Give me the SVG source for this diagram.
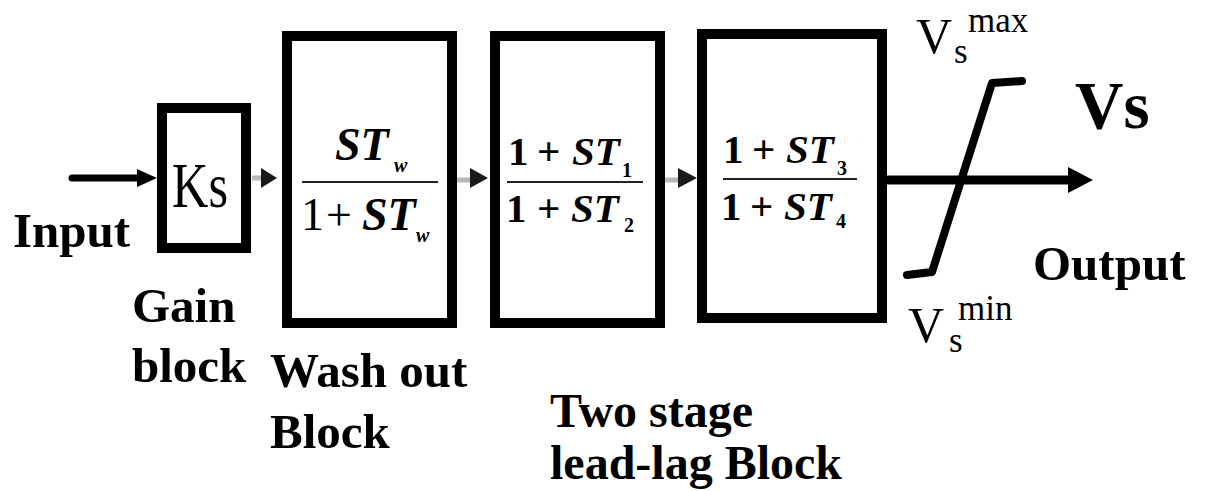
<svg xmlns="http://www.w3.org/2000/svg" width="1207" height="491" viewBox="0 0 1207 491">
<defs>
<style>
.box{fill:#fff;stroke:#000;stroke-width:10}
.frac{stroke:#222;stroke-width:2}
.gray{stroke:#b8b8b8;stroke-width:5}
.line{stroke:#000;fill:none;stroke-linecap:round;stroke-linejoin:round}
</style>
</defs>
<rect width="1207" height="491" fill="#fff"/>
<g id="connectors">
  <line class="line" x1="72" y1="178" x2="140" y2="178" stroke-width="7"/>
  <polygon points="137,169 157,178 137,187" fill="#000"/>
  <line class="gray" x1="252" y1="178" x2="263" y2="178"/>
  <polygon points="261,168 277,178 261,188" fill="#1a1a1a"/>
  <line class="gray" x1="440" y1="180" x2="472" y2="180"/>
  <polygon points="470,168 488,178 470,188" fill="#1a1a1a"/>
  <line class="gray" x1="665" y1="180" x2="680" y2="180"/>
  <polygon points="678,168 697,178 678,188" fill="#1a1a1a"/>
  <line class="line" x1="887" y1="180" x2="1072" y2="180" stroke-width="9" stroke-linecap="butt"/>
  <polygon points="1068,167 1093,180 1068,193" fill="#000"/>
</g>
<g id="input">
  <text x="13" y="247" font-family="Liberation Serif" font-weight="bold" font-size="49">Input</text>
</g>
<g id="gain">
  <rect class="box" x="162" y="108" width="84" height="140"/>
  <text x="172" y="207" font-family="Liberation Serif" font-size="64" textLength="56" lengthAdjust="spacingAndGlyphs">Ks</text>
  <text x="132" y="322" font-family="Liberation Serif" font-weight="bold" font-size="49">Gain</text>
  <text x="132" y="382" font-family="Liberation Serif" font-weight="bold" font-size="49">block</text>
</g>
<g id="washout">
  <rect class="box" x="287" y="36" width="165" height="287"/>
  <line class="frac" x1="302" y1="182" x2="438" y2="182"/>
  <text x="335" y="160" font-family="Liberation Serif" font-weight="bold" font-style="italic" font-size="46">ST</text>
  <text x="394" y="172" font-family="Liberation Serif" font-weight="bold" font-style="italic" font-size="20">w</text>
  <text x="301" y="230" font-family="Liberation Serif" font-size="46">1</text>
  <text x="326" y="230" font-family="Liberation Serif" font-size="46">+</text>
  <text x="362" y="230" font-family="Liberation Serif" font-weight="bold" font-style="italic" font-size="46">ST</text>
  <text x="416" y="242" font-family="Liberation Serif" font-weight="bold" font-style="italic" font-size="20">w</text>
  <text x="270" y="387" font-family="Liberation Serif" font-weight="bold" font-size="49">Wash out</text>
  <text x="270" y="448" font-family="Liberation Serif" font-weight="bold" font-size="49">Block</text>
</g>
<g id="leadlag1">
  <rect class="box" x="495" y="36" width="165" height="287"/>
  <line class="frac" x1="507" y1="182" x2="643" y2="182"/>
  <text x="508" y="165" font-family="Liberation Serif" font-weight="bold" font-size="41">1</text>
  <text x="537" y="165" font-family="Liberation Serif" font-weight="bold" font-size="41">+</text>
  <text x="572" y="165" font-family="Liberation Serif" font-weight="bold" font-style="italic" font-size="41">ST</text>
  <text x="622" y="177" font-family="Liberation Serif" font-weight="bold" font-size="20">1</text>
  <text x="506" y="222" font-family="Liberation Serif" font-weight="bold" font-size="41">1</text>
  <text x="537" y="222" font-family="Liberation Serif" font-weight="bold" font-size="41">+</text>
  <text x="571" y="222" font-family="Liberation Serif" font-weight="bold" font-style="italic" font-size="41">ST</text>
  <text x="624" y="232" font-family="Liberation Serif" font-weight="bold" font-size="20">2</text>
</g>
<g id="leadlag2">
  <rect class="box" x="702" y="34" width="180" height="284"/>
  <line class="frac" x1="723" y1="179" x2="857" y2="179"/>
  <text x="723" y="163" font-family="Liberation Serif" font-weight="bold" font-size="41">1</text>
  <text x="752" y="163" font-family="Liberation Serif" font-weight="bold" font-size="41">+</text>
  <text x="786" y="163" font-family="Liberation Serif" font-weight="bold" font-style="italic" font-size="41">ST</text>
  <text x="837" y="175" font-family="Liberation Serif" font-weight="bold" font-size="20">3</text>
  <text x="721" y="220" font-family="Liberation Serif" font-weight="bold" font-size="41">1</text>
  <text x="750" y="220" font-family="Liberation Serif" font-weight="bold" font-size="41">+</text>
  <text x="784" y="220" font-family="Liberation Serif" font-weight="bold" font-style="italic" font-size="41">ST</text>
  <text x="836" y="228" font-family="Liberation Serif" font-weight="bold" font-size="20">4</text>
  <text x="550" y="427" font-family="Liberation Serif" font-weight="bold" font-size="48">Two stage</text>
  <text x="550" y="479" font-family="Liberation Serif" font-weight="bold" font-size="48">lead-lag Block</text>
</g>
<g id="limiter">
  <path class="line" d="M907,275 L932,272 L992,83 L1022,81" stroke-width="8"/>
  <text x="916" y="53" font-family="Liberation Serif" font-size="50">V</text>
  <text x="954" y="63" font-family="Liberation Serif" font-size="35">s</text>
  <text x="968" y="32" font-family="Liberation Serif" font-size="35">max</text>
  <text x="908" y="342" font-family="Liberation Serif" font-size="50">V</text>
  <text x="949" y="352" font-family="Liberation Serif" font-size="35">s</text>
  <text x="958" y="320" font-family="Liberation Serif" font-size="35">min</text>
</g>
<g id="output">
  <text x="1075" y="128" font-family="Liberation Serif" font-weight="bold" font-size="67">Vs</text>
  <text x="1033" y="280" font-family="Liberation Serif" font-weight="bold" font-size="49">Output</text>
</g>
</svg>
